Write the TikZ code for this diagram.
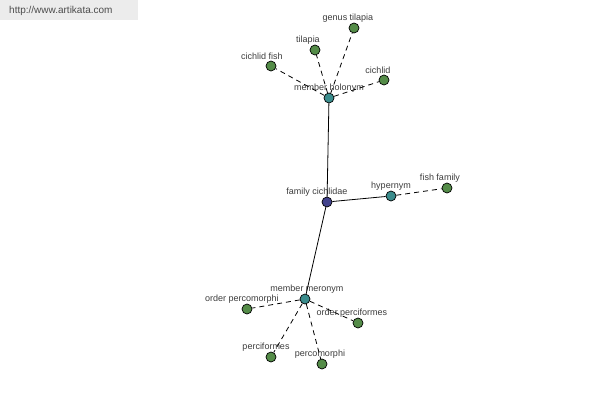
\documentclass[tikz,border=0pt]{standalone}
\usepackage{fontspec}
\setmainfont{Liberation Sans}
\usepackage{tikz}
\usetikzlibrary{arrows,positioning,calc}

\definecolor{leafgreen}{RGB}{84,140,72}
\definecolor{reltea}{RGB}{58,140,140}
\definecolor{rootblue}{RGB}{66,66,140}
\definecolor{txtgrey}{RGB}{60,60,60}
\definecolor{bannergrey}{RGB}{236,236,236}

\tikzset{
  word/.style={circle, draw=black, line width=0.7pt, inner sep=0pt, minimum width=10pt},
  lbl/.style={font=\fontsize{9}{10}\selectfont, text=txtgrey, inner sep=0pt, label distance=0.5pt}
}

\begin{document}
\begin{tikzpicture}[x=1pt,y=-1pt]
  \useasboundingbox (0,0) rectangle (600,400);
  \fill[bannergrey] (0,0) rectangle (138,20);
  \node (site) [anchor=west, font=\fontsize{10}{12}\selectfont, text=black!70, inner sep=0pt] at (9,11) {http://www.artikata.com};

  \node (fam) [word, fill=rootblue, label={[lbl,xshift=-10pt]above:family cichlidae}] at (327,202) {};
  \node (hol) [word, fill=reltea, label={[lbl]above:member holonym}] at (329,98) {};
  \node (hyp) [word, fill=reltea, label={[lbl]above:hypernym}] at (391,196) {};
  \node (mer) [word, fill=reltea, label={[lbl,xshift=2pt]above:member meronym}] at (305,299) {};

  \node (gtil) [word, fill=leafgreen, label={[lbl,xshift=-6pt]above:genus tilapia}] at (354,28) {};
  \node (til) [word, fill=leafgreen, label={[lbl,xshift=-7pt]above:tilapia}] at (315,50) {};
  \node (cfish) [word, fill=leafgreen, label={[lbl,xshift=-9pt]above:cichlid fish}] at (271,66) {};
  \node (cich) [word, fill=leafgreen, label={[lbl,xshift=-6pt]above:cichlid}] at (384,80) {};
  \node (ffam) [word, fill=leafgreen, label={[lbl,xshift=-7pt]above:fish family}] at (447,188) {};
  \node (opcm) [word, fill=leafgreen, label={[lbl,xshift=-5pt]above:order percomorphi}] at (247,309) {};
  \node (opcf) [word, fill=leafgreen, label={[lbl,xshift=-6pt]above:order perciformes}] at (358,323) {};
  \node (pcf) [word, fill=leafgreen, label={[lbl,xshift=-5pt]above:perciformes}] at (271,357) {};
  \node (pcm) [word, fill=leafgreen, label={[lbl,xshift=-2pt]above:percomorphi}] at (322,364) {};

  \path [-] [line width=0.8pt]
  (fam) edge (hol)
  (fam) edge (hyp)
  (fam) edge (mer);

  \path [-] [line width=0.8pt, dash pattern=on 5pt off 4pt]
  (hol) edge (gtil)
  (hol) edge (til)
  (hol) edge (cfish)
  (hol) edge (cich)
  (hyp) edge (ffam)
  (mer) edge (opcm)
  (mer) edge (opcf)
  (mer) edge (pcf)
  (mer) edge (pcm);
\end{tikzpicture}
\end{document}
